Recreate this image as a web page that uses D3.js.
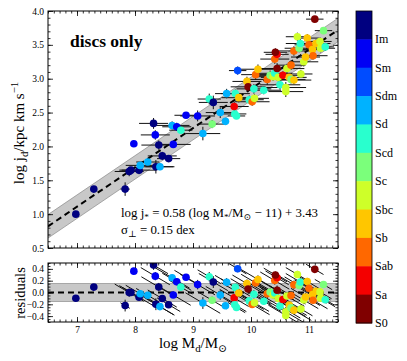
<!DOCTYPE html>
<html>
<head>
<meta charset="utf-8">
<script src="https://cdn.jsdelivr.net/npm/d3@7"></script>
<style>
  body { margin: 0; background: #fff; }
  svg { display: block; }
  text { font-family: "Liberation Serif", "DejaVu Serif", serif; fill: #000; }
</style>
</head>
<body>
<svg id="chart" width="407" height="361"></svg>
<script>
// morphological types (colour bar, top to bottom)
const types = ["Im", "Sm", "Sdm", "Sd", "Scd", "Sc", "Sbc", "Sb", "Sab", "Sa", "S0"];
const typeColors = ["#000080", "#0000f4", "#004cff", "#00b2ff", "#29ffce", "#7bff7b",
                    "#ceff29", "#ffc600", "#ff6800", "#f40000", "#800000"];

// disc mass, disc angular momentum, errors, type
const logM = [6.98, 7.29, 7.83, 7.90, 7.93, 8.07, 8.09, 8.22, 8.36, 8.43,
              7.98, 8.32, 8.35, 8.41, 8.66, 8.47, 8.58, 8.64, 8.72, 8.79,
              8.88, 9.08, 9.17, 9.33, 9.28, 9.35, 9.47, 9.56, 9.58, 9.71,
              9.72, 9.75, 9.73, 9.77, 9.79, 9.93, 9.95, 9.97, 10.02, 10.05,
              10.06, 10.08, 10.12, 10.22, 10.28, 10.33, 10.38, 10.41, 10.41, 10.45,
              10.42, 10.45, 10.47, 10.50, 10.55, 10.60, 10.60, 10.62, 10.66, 10.69,
              10.69, 10.74, 10.74, 10.80, 10.83, 10.85, 10.86, 10.91, 10.94, 10.97,
              11.00, 11.06, 11.07, 11.10, 11.12, 11.19, 11.20, 11.25, 11.28];
const logJ = [1.00, 1.37, 1.37, 1.63, 1.65, 1.65, 1.72, 1.77, 1.70, 1.70,
              2.04, 2.34, 2.17, 2.02, 2.03, 1.86, 1.82, 2.31, 2.29, 2.24,
              2.46, 2.45, 2.19, 2.33, 2.70, 2.65, 2.50, 2.37, 2.78, 2.59,
              2.48, 2.45, 2.78, 3.12, 2.72, 2.96, 2.88, 2.69, 2.66, 2.85,
              2.71, 3.06, 3.14, 2.83, 2.99, 3.05, 3.03, 3.08, 3.29, 3.36,
              3.39, 3.15, 3.02, 2.91, 3.05, 2.87, 2.81, 3.15, 3.02, 3.20,
              2.99, 3.41, 2.98, 3.62, 3.45, 3.52, 3.07, 3.25, 3.32, 3.60,
              3.50, 3.43, 3.34, 3.88, 3.52, 3.55, 3.45, 3.71, 3.47];
const errM = [0.05, 0.05, 0.08, 0.25, 0.20, 0.30, 0.25, 0.20, 0.30, 0.25,
              0.04, 0.25, 0.25, 0.30, 0.30, 0.25, 0.20, 0.30, 0.25, 0.20,
              0.20, 0.30, 0.30, 0.25, 0.20, 0.25, 0.25, 0.04, 0.20, 0.25,
              0.20, 0.15, 0.25, 0.15, 0.30, 0.25, 0.30, 0.25, 0.30, 0.30,
              0.25, 0.25, 0.30, 0.30, 0.30, 0.25, 0.30, 0.30, 0.25, 0.20,
              0.20, 0.30, 0.30, 0.35, 0.30, 0.35, 0.30, 0.30, 0.30, 0.25,
              0.25, 0.30, 0.30, 0.20, 0.25, 0.25, 0.20, 0.25, 0.25, 0.20,
              0.25, 0.25, 0.25, 0.15, 0.25, 0.20, 0.25, 0.15, 0.15];
const errJ = [0.03, 0.03, 0.10, 0.07, 0.05, 0.06, 0.05, 0.05, 0.10, 0.05,
              0.03, 0.08, 0.07, 0.07, 0.05, 0.06, 0.05, 0.06, 0.06, 0.05,
              0.04, 0.08, 0.10, 0.06, 0.08, 0.10, 0.08, 0.03, 0.07, 0.07,
              0.05, 0.04, 0.06, 0.06, 0.07, 0.07, 0.08, 0.06, 0.06, 0.07,
              0.06, 0.07, 0.07, 0.06, 0.08, 0.07, 0.06, 0.08, 0.07, 0.07,
              0.06, 0.08, 0.06, 0.07, 0.06, 0.08, 0.08, 0.07, 0.06, 0.07,
              0.06, 0.07, 0.06, 0.06, 0.06, 0.07, 0.06, 0.07, 0.07, 0.06,
              0.06, 0.06, 0.06, 0.03, 0.06, 0.06, 0.06, 0.05, 0.06];
const galType = ["Im", "Im", "Im", "Im", "Im", "Im", "Sd", "Sd", "Im", "Sd",
                 "Sm", "Im", "Sm", "Im", "Sm", "Im", "Im", "Sd", "Sm", "Scd",
                 "Sm", "Sm", "Sd", "Sc", "Scd", "Im", "Sd", "Sd", "Sd", "Sa",
                 "Scd", "Scd", "Scd", "Sdm", "Sb", "Sb", "S0", "Scd", "Sab", "Scd",
                 "Sbc", "Sab", "Sb", "Scd", "Sab", "Sc", "Sbc", "Scd", "Sab", "Sa",
                 "S0", "S0", "Sbc", "Scd", "Sa", "Sbc", "Sbc", "Sbc", "Sb", "Sab",
                 "Sc", "Sab", "Sb", "Sbc", "Sc", "Scd", "Sbc", "Sbc", "Sb", "Sb",
                 "Sab", "Sb", "Sab", "S0", "Sb", "Sbc", "Sbc", "Sc", "Scd"];

// fit: log j = slope (log M - 11) + intercept, perpendicular scatter
const fitSlope = 0.58, fitIntercept = 3.43, fitSigma = 0.15;

const svg = d3.select("#chart");
const x = d3.scaleLinear().domain([6.5, 11.5]).range([48, 338]);
const y = d3.scaleLinear().domain([0.5, 4.0]).range([248, 11]);
const yr = d3.scaleLinear().domain([-0.5, 0.5]).range([322, 263]);
const colour = d3.scaleOrdinal().domain(types).range(typeColors);

const fit = m => fitSlope * (m - 11) + fitIntercept;
const halfBand = fitSigma * Math.sqrt(1 + fitSlope * fitSlope);

const data = logM.map((m, i) => ({
    m: m, j: logJ[i], em: errM[i], ej: errJ[i], t: galType[i], r: logJ[i] - fit(m)
}));

// ---------- main panel ----------
let main = svg.append("g");
main.append("defs").append("clipPath").attr("id", "clipMain")
    .append("rect").attr("x", 48).attr("y", 11).attr("width", 290).attr("height", 237);
let mg = main.append("g").attr("clip-path", "url(#clipMain)");

let xs = x.domain();
mg.append("path")
    .attr("d", d3.area().x(d => x(d)).y0(d => y(fit(d) - halfBand)).y1(d => y(fit(d) + halfBand))(xs))
    .attr("fill", "#c8c8c8").attr("stroke", "#8a8a8a").attr("stroke-width", 0.7);
mg.append("path")
    .attr("d", d3.line().x(d => x(d)).y(d => y(fit(d)))(xs))
    .attr("fill", "none").attr("stroke", "#000").attr("stroke-width", 2).attr("stroke-dasharray", "6,4");

let eb = mg.append("g").attr("stroke", "#111").attr("stroke-width", 1);
eb.selectAll("line.h").data(data).enter().append("line").attr("class", "h")
    .attr("x1", d => x(d.m - d.em)).attr("x2", d => x(d.m + d.em))
    .attr("y1", d => y(d.j)).attr("y2", d => y(d.j));
eb.selectAll("line.v").data(data).enter().append("line").attr("class", "v")
    .attr("x1", d => x(d.m)).attr("x2", d => x(d.m))
    .attr("y1", d => y(d.j - d.ej)).attr("y2", d => y(d.j + d.ej));
mg.selectAll("circle").data(data).enter().append("circle")
    .attr("cx", d => x(d.m)).attr("cy", d => y(d.j)).attr("r", 3.8)
    .attr("fill", d => colour(d.t));

// ---------- residual panel ----------
let res = svg.append("g");
res.append("defs").append("clipPath").attr("id", "clipRes")
    .append("rect").attr("x", 48).attr("y", 263).attr("width", 290).attr("height", 59);
let rg = res.append("g").attr("clip-path", "url(#clipRes)");
rg.append("rect").attr("x", 48).attr("width", 290)
    .attr("y", yr(fitSigma)).attr("height", yr(-fitSigma) - yr(fitSigma))
    .attr("fill", "#c8c8c8").attr("stroke", "#8a8a8a").attr("stroke-width", 0.7);
rg.append("line").attr("x1", 48).attr("x2", 338).attr("y1", yr(0)).attr("y2", yr(0))
    .attr("stroke", "#000").attr("stroke-width", 2).attr("stroke-dasharray", "6,4");
let rb = rg.append("g").attr("stroke", "#111").attr("stroke-width", 1);
rb.selectAll("line.d").data(data).enter().append("line").attr("class", "d")
    .attr("x1", d => x(d.m - d.em)).attr("y1", d => yr(d.r + fitSlope * d.em))
    .attr("x2", d => x(d.m + d.em)).attr("y2", d => yr(d.r - fitSlope * d.em));
rb.selectAll("line.v").data(data).enter().append("line").attr("class", "v")
    .attr("x1", d => x(d.m)).attr("x2", d => x(d.m))
    .attr("y1", d => yr(d.r - d.ej)).attr("y2", d => yr(d.r + d.ej));
rg.selectAll("circle").data(data).enter().append("circle")
    .attr("cx", d => x(d.m)).attr("cy", d => yr(d.r)).attr("r", 3.8)
    .attr("fill", d => colour(d.t));

// ---------- axes ----------
function range(a, b, s) {
    let out = [];
    for (let v = a; v <= b + 1e-9; v += s) out.push(+v.toFixed(3));
    return out;
}

function frame(g, yScale, top, bottom, majorY, minorY, fmtY, xLabels) {
    let tickStyle = sel => {
        sel.select(".domain").remove();
        sel.selectAll("line").attr("stroke", "#000").attr("stroke-width", 0.8);
        sel.selectAll("text").style("font-family", "Liberation Serif, serif").style("font-size", "9.5px");
    };
    g.append("g").attr("transform", "translate(48,0)")
        .call(d3.axisLeft(yScale).tickValues(minorY).tickSize(-2.5).tickFormat("")).call(tickStyle);
    g.append("g").attr("transform", "translate(48,0)")
        .call(d3.axisLeft(yScale).tickValues(majorY).tickSize(-5).tickPadding(4).tickFormat(fmtY)).call(tickStyle);
    g.append("g").attr("transform", "translate(338,0)")
        .call(d3.axisRight(yScale).tickValues(minorY).tickSize(-2.5).tickFormat("")).call(tickStyle);
    g.append("g").attr("transform", "translate(338,0)")
        .call(d3.axisRight(yScale).tickValues(majorY).tickSize(-5).tickFormat("")).call(tickStyle);

    let minorX = range(6.5, 11.5, 0.1), majorX = [7, 8, 9, 10, 11];
    g.append("g").attr("transform", `translate(0,${top})`)
        .call(d3.axisTop(x).tickValues(minorX).tickSize(-2.5).tickFormat("")).call(tickStyle);
    g.append("g").attr("transform", `translate(0,${top})`)
        .call(d3.axisTop(x).tickValues(majorX).tickSize(-5).tickFormat("")).call(tickStyle);
    g.append("g").attr("transform", `translate(0,${bottom})`)
        .call(d3.axisBottom(x).tickValues(minorX).tickSize(-2.5).tickFormat("")).call(tickStyle);
    g.append("g").attr("transform", `translate(0,${bottom})`)
        .call(d3.axisBottom(x).tickValues(majorX).tickSize(-5).tickPadding(4)
            .tickFormat(xLabels ? d3.format("d") : "")).call(tickStyle);

    g.append("rect").attr("x", 48).attr("y", top).attr("width", 290).attr("height", bottom - top)
        .attr("fill", "none").attr("stroke", "#000").attr("stroke-width", 1);
}

frame(main, y, 11, 248, range(0.5, 4.0, 0.5), range(0.5, 4.0, 0.1), d3.format(".1f"), false);
frame(res, yr, 263, 322, [-0.4, -0.2, 0, 0.2, 0.4], range(-0.5, 0.5, 0.05), d3.format(".1f"), true);

// ---------- text ----------
function richText(g, parts, size) {
    let t = g.append("text").style("font-size", size + "px");
    let shift = 0;
    parts.forEach(p => {
        let target = p.sub ? 0.25 * size : (p.sup ? -0.4 * size : 0);
        let ts = t.append("tspan").text(p.t).attr("dy", target - shift);
        if (p.sub || p.sup) ts.style("font-size", (size * 0.72) + "px");
        shift = target;
    });
    return t;
}

main.append("text").attr("x", 70).attr("y", 47)
    .style("font-size", "17.5px").style("font-weight", "bold").text("discs only");

let ann = main.append("g").attr("transform", "translate(121,217)");
richText(ann, [{t: "log j"}, {t: "*", sub: true}, {t: " = 0.58 (log M"}, {t: "*", sub: true},
    {t: "/M"}, {t: "⊙", sub: true}, {t: " − 11) + 3.43"}], 12.9);
let sig = main.append("g").attr("transform", "translate(121,234)");
richText(sig, [{t: "σ"}, {t: "⊥", sub: true}, {t: " = 0.15 dex"}], 12.9);

let yl = svg.append("g").attr("transform", "translate(24,133) rotate(-90)");
richText(yl, [{t: "log  j"}, {t: "d", sub: true}, {t: "/kpc km s"}, {t: "−1", sup: true}], 15)
    .attr("text-anchor", "middle");
let rl = svg.append("g").attr("transform", "translate(25,293) rotate(-90)");
richText(rl, [{t: "residuals"}], 14.5).attr("text-anchor", "middle");
let xl = svg.append("g").attr("transform", "translate(193,348)");
richText(xl, [{t: "log  M"}, {t: "d", sub: true}, {t: "/M"}, {t: "⊙", sub: true}], 15)
    .attr("text-anchor", "middle");

// ---------- colour bar ----------
let cb = svg.append("g");
let cy = d3.scaleBand().domain(types).range([11, 323]);
cb.selectAll("rect").data(types).enter().append("rect")
    .attr("x", 356).attr("width", 16)
    .attr("y", d => cy(d)).attr("height", cy.bandwidth() + 0.5)
    .attr("fill", d => colour(d));
cb.append("rect").attr("x", 356).attr("y", 11).attr("width", 16).attr("height", 312)
    .attr("fill", "none").attr("stroke", "#000").attr("stroke-width", 0.8);
cb.selectAll("text").data(types).enter().append("text")
    .attr("x", 375).attr("y", d => cy(d) + cy.bandwidth() + 4)
    .style("font-size", "12px").text(d => d);
</script>
</body>
</html>
